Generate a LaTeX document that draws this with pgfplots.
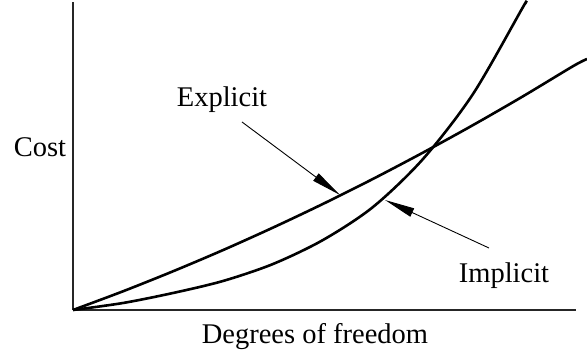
\documentclass[border=0pt]{standalone}
\usepackage{fontspec}
\setmainfont{Liberation Serif}
\usepackage{pgfplots}
\pgfplotsset{compat=1.18}
\usetikzlibrary{arrows.meta}
\newcommand{\lbl}{\fontsize{28.5bp}{34bp}\selectfont}
\begin{document}
\begin{tikzpicture}
\path[use as bounding box] (-73bp,-46bp) rectangle (514bp,310bp);
\begin{axis}[
  scale only axis,
  width=503bp, height=308bp,
  xmin=0, xmax=503, ymin=0, ymax=308,
  axis x line=bottom, axis y line=left,
  axis line style={-, line width=1.5bp, black!85},
  xtick=\empty, ytick=\empty,
  clip=false,
]
% Explicit
\addplot[smooth, line width=2.6bp, black] coordinates {
 (0,0) (50,18.7) (100,38.7) (150,59.9) (200,82.4) (250,106.1) (300,131.1) (350,157.4) (400,184.9) (450,213.7) (500,243.8) (514,251)
};
% Implicit
\addplot[smooth, line width=2.6bp, black] coordinates {
 (0,0) (50,7) (100,17) (150,29) (200,46) (250,70) (300,103) (350,151) (400,216) (450,303) (452,306)
};
\draw[line width=0.9bp, -{Triangle[length=30bp,width=9bp]}] (axis cs:169,188) -- (axis cs:267,115);
\draw[line width=0.9bp, -{Triangle[length=30bp,width=9bp]}] (axis cs:416,62) -- (axis cs:312,110);
\node[anchor=base, inner sep=0pt, font=\lbl] at (axis cs:149,203) {Explicit};
\node[anchor=base, inner sep=0pt, font=\lbl] at (axis cs:431,28) {Implicit};
\node[anchor=base, inner sep=0pt, font=\lbl] at (axis cs:-33,153) {Cost};
\node[anchor=base, inner sep=0pt, font=\lbl] at (axis cs:242,-33) {Degrees of freedom};
\end{axis}
\end{tikzpicture}
\end{document}
